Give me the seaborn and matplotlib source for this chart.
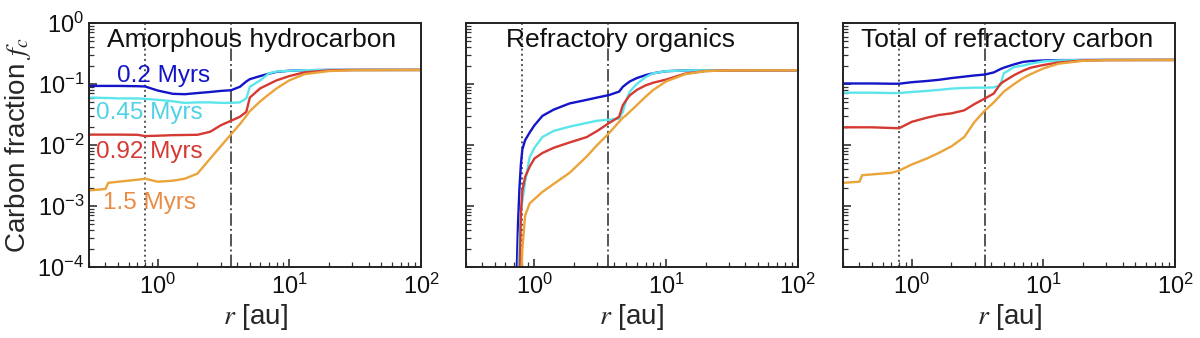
import numpy as np
import pandas as pd
import matplotlib
matplotlib.use("Agg")
import matplotlib.pyplot as plt
import matplotlib.ticker as mticker
import seaborn as sns

# ---------------- data ----------------
times = ["0.2 Myrs", "0.45 Myrs", "0.92 Myrs", "1.5 Myrs"]
colors = ["#1414c8", "#5ce6ec", "#d43a32", "#eaa43a"]
label_colors = ["#1414c8", "#4fd2e6", "#d43a32", "#ea8c44"]

r_a = [0.3, 0.4, 0.42, 0.5, 0.7, 0.8, 1.0, 1.3, 1.6, 2.0, 2.5, 3.0, 3.6, 4.2,
       4.7, 5.0, 6.0, 7.0, 8.0, 10, 13, 20, 30, 100]

ah_02 = [0.093, 0.093, 0.093, 0.093, 0.092, 0.091, 0.078, 0.069, 0.068, 0.071, 0.074, 0.077,
         0.079, 0.09, 0.11, 0.12, 0.135, 0.148, 0.158, 0.165, 0.168, 0.17, 0.17, 0.17]
ah_045 = [0.060, 0.059, 0.059, 0.058, 0.058, 0.057, 0.055, 0.052, 0.049, 0.050, 0.050, 0.049,
          0.049, 0.050, 0.058, 0.09, 0.115, 0.15, 0.16, 0.165, 0.168, 0.17, 0.17, 0.17]
ah_092 = [0.0148, 0.0148, 0.0148, 0.0148, 0.0147, 0.0140, 0.0142, 0.0145, 0.0146, 0.0147, 0.0165, 0.021,
          0.025, 0.029, 0.035, 0.06, 0.085, 0.1, 0.115, 0.135, 0.155, 0.167, 0.17, 0.17]
ah_15 = [0.0018, 0.0019, 0.0024, 0.0025, 0.0027, 0.0028, 0.0025, 0.0026, 0.0028, 0.0034, 0.006, 0.0095,
         0.015, 0.022, 0.03, 0.036, 0.052, 0.068, 0.085, 0.115, 0.145, 0.163, 0.168, 0.17]

r_b = [0.73, 0.75, 0.77, 0.79, 0.81, 0.85, 0.92, 1.0, 1.15, 1.4, 1.85, 2.5, 3.0, 3.7,
       4.4, 4.7, 5.0, 5.3, 6.0, 7.0, 8.0, 10, 14, 20, 30, 100]
ro_02 = [5e-5, 0.0005, 0.002, 0.005, 0.0085, 0.012, 0.016, 0.021, 0.03, 0.038, 0.048, 0.055, 0.06, 0.066,
         0.075, 0.09, 0.1, 0.11, 0.125, 0.14, 0.15, 0.162, 0.167, 0.168, 0.168, 0.168]
ro_045 = [np.nan, 5e-5, 0.0003, 0.0008, 0.0012, 0.0025, 0.0063, 0.009, 0.0135, 0.017, 0.02, 0.023, 0.025, 0.026,
          0.027, 0.035, 0.055, 0.075, 0.1, 0.13, 0.15, 0.162, 0.167, 0.168, 0.168, 0.168]
ro_092 = [np.nan, np.nan, 5e-5, 0.0008, 0.0018, 0.003, 0.0044, 0.006, 0.0074, 0.009, 0.011, 0.0135, 0.017, 0.023,
          0.029, 0.045, 0.055, 0.065, 0.08, 0.095, 0.105, 0.118, 0.148, 0.163, 0.167, 0.168]
ro_15 = [np.nan, np.nan, np.nan, 5e-5, 0.0002, 0.0007, 0.0011, 0.0013, 0.0017, 0.0023, 0.0035, 0.0065, 0.01, 0.0157,
         0.024, 0.028, 0.031, 0.035, 0.045, 0.062, 0.08, 0.11, 0.145, 0.163, 0.167, 0.168]

tot_02 = [0.102, 0.102, 0.102, 0.102, 0.101, 0.101, 0.107, 0.112, 0.117, 0.125, 0.132, 0.138,
          0.143, 0.155, 0.175, 0.185, 0.21, 0.23, 0.238, 0.243, 0.246, 0.247, 0.248, 0.248]
tot_045 = [0.072, 0.072, 0.072, 0.072, 0.071, 0.071, 0.074, 0.077, 0.08, 0.084, 0.086, 0.087,
           0.087, 0.088, 0.095, 0.15, 0.19, 0.2, 0.215, 0.235, 0.243, 0.247, 0.248, 0.248]
tot_092 = [0.0195, 0.0195, 0.0195, 0.0195, 0.019, 0.0188, 0.024, 0.028, 0.031, 0.033, 0.037, 0.047,
           0.058, 0.07, 0.1, 0.11, 0.14, 0.165, 0.185, 0.205, 0.225, 0.243, 0.247, 0.248]
tot_15 = [0.0024, 0.0025, 0.0032, 0.0033, 0.0035, 0.0038, 0.0048, 0.006, 0.0074, 0.0095, 0.0135, 0.024,
          0.037, 0.05, 0.065, 0.075, 0.1, 0.125, 0.145, 0.18, 0.215, 0.24, 0.246, 0.248]

panel_titles = ["Amorphous hydrocarbon", "Refractory organics", "Total of refractory carbon"]
panels = [
    (r_a, [ah_02, ah_045, ah_092, ah_15]),
    (r_b, [ro_02, ro_045, ro_092, ro_15]),
    (r_a, [tot_02, tot_045, tot_092, tot_15]),
]
r_snow_dotted = 0.8
r_snow_dashdot = 3.6

# ---------------- style ----------------
sns.set_style("ticks")
plt.rcParams["font.family"] = ["Liberation Sans", "DejaVu Sans"]
plt.rcParams["mathtext.fontset"] = "stix"
plt.rcParams["xtick.direction"] = "in"
plt.rcParams["ytick.direction"] = "in"
plt.rcParams["xtick.minor.visible"] = True
plt.rcParams["ytick.minor.visible"] = True

fig = plt.figure(figsize=(12, 3.38), dpi=100)
lefts = [0.0742, 0.388, 0.7025]
axes = [fig.add_axes([l, 0.21, 0.2767, 0.722]) for l in lefts]

for i, (ax, (rr, series)) in enumerate(zip(axes, panels)):
    frames = []
    for t, vals in zip(times, series):
        frames.append(pd.DataFrame({"r": rr, "fc": vals, "time": t}))
    df = pd.concat(frames, ignore_index=True).dropna()
    sns.lineplot(data=df, x="r", y="fc", hue="time", hue_order=times,
                 palette=colors, ax=ax, legend=False, linewidth=1.7,
                 estimator=None, sort=False)
    ax.set_xscale("log")
    ax.set_yscale("log")
    ax.set_xlim(0.3, 100)
    ax.set_ylim(1e-4, 1)
    ax.axvline(r_snow_dotted, color="#555555", linestyle=":", linewidth=1.4, zorder=0)
    ax.axvline(r_snow_dashdot, color="#555555", linestyle="-.", linewidth=1.4, zorder=0)
    for s in ax.spines.values():
        s.set_linewidth(1.4)
        s.set_color("#222222")
    ax.xaxis.set_major_locator(mticker.LogLocator(base=10, numticks=10))
    ax.xaxis.set_minor_locator(mticker.LogLocator(base=10, subs=np.arange(2, 10), numticks=10))
    ax.yaxis.set_major_locator(mticker.LogLocator(base=10, numticks=10))
    ax.yaxis.set_minor_locator(mticker.LogLocator(base=10, subs=np.arange(2, 10), numticks=10))
    ax.xaxis.set_minor_formatter(mticker.NullFormatter())
    ax.yaxis.set_minor_formatter(mticker.NullFormatter())
    ax.tick_params(which="major", length=6, width=1.1, labelsize=17, colors="#222222",
                   labelcolor="#111111")
    ax.tick_params(which="minor", length=3.5, width=0.9, colors="#333333")
    ax.tick_params(axis="x", which="major", pad=5)
    ax.set_xlabel(r"$r$ [au]", fontsize=20, labelpad=2)
    tx = [0.49, 0.466, 0.493][i]
    ax.text(tx, 0.93, panel_titles[i], transform=ax.transAxes, ha="center", va="center",
            fontsize=19, color="#111111")
    if i == 0:
        ax.set_ylabel(r"Carbon fraction $f_c$", fontsize=20, labelpad=3)
    else:
        ax.set_ylabel("")
        ax.tick_params(axis="y", labelleft=False)

label_pos = [(0.223, 0.783), (0.181, 0.631), (0.181, 0.471), (0.181, 0.262)]
for t, c, (px, py) in zip(times, label_colors, label_pos):
    axes[0].text(px, py, t, transform=axes[0].transAxes, ha="center", va="center",
                 fontsize=17.5, color=c)

fig.savefig("out.png", dpi=100)
